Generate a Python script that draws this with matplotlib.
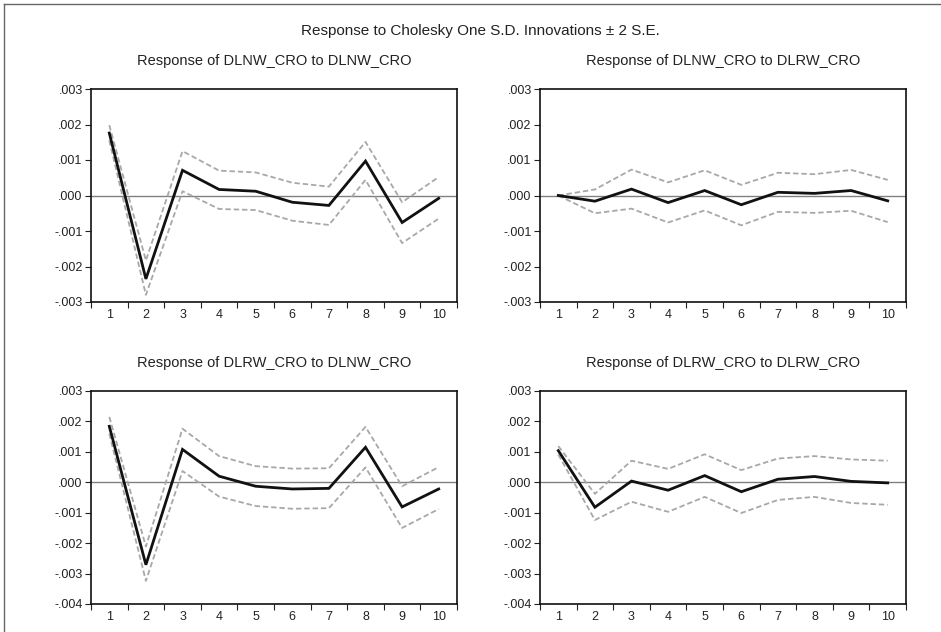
import matplotlib
matplotlib.use("Agg")
import matplotlib.pyplot as plt
from matplotlib.lines import Line2D
from matplotlib.ticker import FuncFormatter, FixedLocator

plt.rcParams['font.family'] = ['Liberation Sans', 'DejaVu Sans']

periods = [1, 2, 3, 4, 5, 6, 7, 8, 9, 10]

titles = ["Response of DLNW_CRO to DLNW_CRO",
          "Response of DLNW_CRO to DLRW_CRO",
          "Response of DLRW_CRO to DLNW_CRO",
          "Response of DLRW_CRO to DLRW_CRO"]

# Panel 1
p1_mean = [0.00176, -0.00235, 0.00071, 0.00017, 0.00012, -0.00019, -0.00028, 0.00097, -0.00076, -0.00008]
p1_up   = [0.00198, -0.00183, 0.00125, 0.00070, 0.00065, 0.00036, 0.00025, 0.00151, -0.00019, 0.00052]
p1_lo   = [0.00155, -0.00280, 0.00012, -0.00038, -0.00041, -0.00071, -0.00083, 0.00044, -0.00134, -0.00065]
# Panel 2
p2_mean = [0.00000, -0.00016, 0.00018, -0.00020, 0.00014, -0.00026, 0.00009, 0.00006, 0.00014, -0.00015]
p2_up   = [0.00000, 0.00017, 0.00073, 0.00037, 0.00071, 0.00030, 0.00064, 0.00060, 0.00072, 0.00044]
p2_lo   = [0.00000, -0.00050, -0.00037, -0.00076, -0.00042, -0.00084, -0.00046, -0.00049, -0.00043, -0.00075]
# Panel 3
p3_mean = [0.00184, -0.00271, 0.00108, 0.00020, -0.00013, -0.00022, -0.00020, 0.00115, -0.00081, -0.00022]
p3_up   = [0.00215, -0.00211, 0.00176, 0.00086, 0.00053, 0.00045, 0.00046, 0.00182, -0.00013, 0.00050]
p3_lo   = [0.00160, -0.00324, 0.00037, -0.00047, -0.00078, -0.00087, -0.00085, 0.00049, -0.00150, -0.00088]
# Panel 4
p4_mean = [0.00104, -0.00082, 0.00004, -0.00026, 0.00022, -0.00031, 0.00010, 0.00019, 0.00003, -0.00002]
p4_up   = [0.00119, -0.00038, 0.00071, 0.00044, 0.00092, 0.00040, 0.00078, 0.00086, 0.00075, 0.00071]
p4_lo   = [0.00091, -0.00124, -0.00064, -0.00097, -0.00048, -0.00101, -0.00058, -0.00048, -0.00068, -0.00074]

means = [p1_mean, p2_mean, p3_mean, p4_mean]
ups = [p1_up, p2_up, p3_up, p4_up]
los = [p1_lo, p2_lo, p3_lo, p4_lo]
ylims = [(-0.003, 0.003), (-0.003, 0.003), (-0.004, 0.003), (-0.004, 0.003)]

W, H = 941, 632
fig = plt.figure(figsize=(W / 100, H / 100), dpi=100)

# outer frame
fig.add_artist(Line2D([4 / W, 4 / W], [0, 1 - 4 / H], color='#666666', lw=1.0))
fig.add_artist(Line2D([4 / W, 1], [1 - 4 / H, 1 - 4 / H], color='#666666', lw=1.0))

boxes = [(91, 89), (540, 89), (91, 391), (540, 391)]
aw, ah = 366, 213

fig.text(480 / W, 1 - 31 / H, "Response to Cholesky One S.D. Innovations \u00b1 2 S.E.",
         ha='center', va='center', fontsize=11, color='#222222')


def fmt(v, pos):
    if abs(v) < 1e-12:
        return ".000"
    return ("%.3f" % v).replace("0.", ".")


for i in range(4):
    l, t = boxes[i]
    ax = fig.add_axes([l / W, 1 - (t + ah) / H, aw / W, ah / H])
    ax.axhline(0, color='#808080', lw=1.0, zorder=1)
    ax.plot(periods, ups[i], color='#a8a8a8', lw=1.3, dashes=(3, 1.6), zorder=2)
    ax.plot(periods, los[i], color='#a8a8a8', lw=1.3, dashes=(3, 1.6), zorder=2)
    ax.plot(periods, means[i], color='#111111', lw=2.0, zorder=3, solid_joinstyle='miter')
    ax.set_xlim(0.5, 10.5)
    ax.set_ylim(*ylims[i])
    lo_, hi_ = ylims[i]
    yt = [round(lo_ + 0.001 * k, 3) for k in range(int(round((hi_ - lo_) / 0.001)) + 1)]
    ax.set_yticks(yt)
    ax.yaxis.set_major_formatter(FuncFormatter(fmt))
    ax.set_xticks(periods)
    ax.set_xticklabels([str(p) for p in periods])
    ax.xaxis.set_minor_locator(FixedLocator([k + 0.5 for k in range(0, 11)]))
    ax.tick_params(axis='x', which='major', length=0, pad=5, labelsize=9, colors='#222222')
    ax.tick_params(axis='x', which='minor', length=4, width=0.8, direction='out', color='#222222')
    ax.tick_params(axis='y', which='major', length=4, width=0.8, direction='out', pad=2,
                   labelsize=9, colors='#222222')
    for sp in ax.spines.values():
        sp.set_linewidth(1.2)
        sp.set_color('#111111')
    fig.text((l + aw / 2) / W, 1 - (t - 28) / H, titles[i], ha='center', va='center',
             fontsize=10.5, color='#222222')

fig.savefig("out.png", dpi=100)
